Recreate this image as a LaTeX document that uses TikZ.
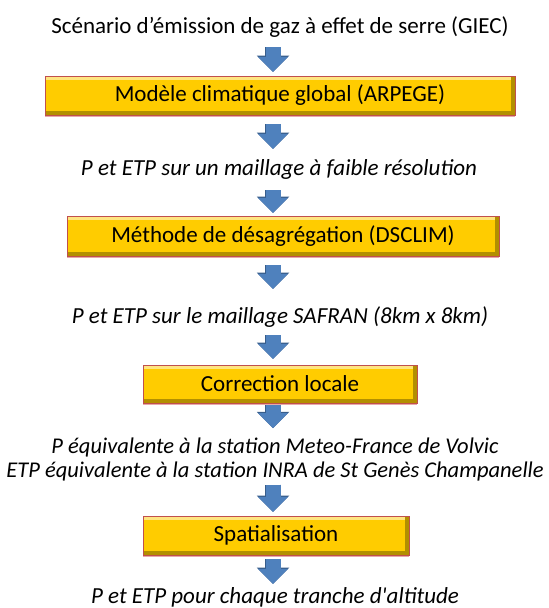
\documentclass[tikz,border=0pt]{standalone}
\usepackage{fontspec}
\setmainfont{Carlito}
\usepackage{xcolor}
\definecolor{FlowBlue}{HTML}{4F81BD}
\definecolor{FlowEdge}{HTML}{385D8A}
\definecolor{StepGold}{HTML}{FFCC00}
\definecolor{StepLight}{HTML}{FFE580}
\definecolor{StepDark}{HTML}{B38F00}
\definecolor{StepEdge}{HTML}{C0504D}
\definecolor{StepShade}{HTML}{E8A8A8}
\usetikzlibrary{arrows.meta}

\begin{document}
\begin{tikzpicture}[
    x=1pt, y=-1pt,
    font=\fontsize{23}{24}\selectfont,
    % Styles
    head_text/.style={inner sep=0pt, anchor=base, text height=17pt, text depth=6pt},
    data_text/.style={head_text, font=\fontsize{23}{24}\selectfont\itshape},
    step_box/.style={rectangle, draw=StepEdge, thin, fill=StepGold, inner sep=0pt,
        preaction={fill=StepShade, transform canvas={yshift=-2pt}},
        path picture={
            \fill[StepLight] (path picture bounding box.north west) rectangle ([yshift=-4pt]path picture bounding box.north east);
            \fill[StepDark] ([yshift=4pt]path picture bounding box.south west) rectangle (path picture bounding box.south east);
            \fill[StepDark] ([xshift=-4pt]path picture bounding box.north east) rectangle (path picture bounding box.south east);
        }},
    flow/.style={draw=FlowBlue, line width=15pt, -{Triangle[width=30pt, length=15pt, line width=0pt]},
        preaction={draw=FlowEdge, line width=16.5pt, -{Triangle[width=32.5pt, length=16.25pt, line width=0pt]}}}
]
    \useasboundingbox (0,0) rectangle (549,608);
    \coordinate (axis) at (273,0);

    % 1. SCENARIO AND GLOBAL MODEL
    \node[head_text] (scenario) at (280,33) {Scénario d’émission de gaz à effet de serre (GIEC)};
    \node[step_box, minimum width=470pt, minimum height=39pt] (arpege) at (280,95.5) {Modèle climatique global (ARPEGE)};
    \node[data_text] (coarse) at (279,175) {P et ETP sur un maillage à faible résolution};

    % 2. DOWNSCALING
    \node[step_box, minimum width=432pt, minimum height=40pt] (dsclim) at (283,236) {Méthode de désagrégation (DSCLIM)};
    \node[data_text] (safran) at (280,323) {P et ETP sur le maillage SAFRAN (8km x 8km)};

    % 3. LOCAL CORRECTION
    \node[step_box, minimum width=274pt, minimum height=38pt] (correction) at (280,384) {Correction locale};
    \node[inner sep=0pt, anchor=north, align=center, font=\fontsize{22.5}{24}\selectfont\itshape] (stations) at (275,438)
        {P équivalente à la station Meteo-France de Volvic\\ETP équivalente à la station INRA de St Genès Champanelle};

    % 4. SPATIALISATION
    \node[step_box, minimum width=266pt, minimum height=39pt] (spatial) at (276,535.5) {Spatialisation};
    \node[data_text] (altitude) at (275,603) {P et ETP pour chaque tranche d\textquotesingle altitude};

    % Flow arrows
    \draw[flow, shorten <=8pt, shorten >=4pt] (scenario.south -| axis) -- (arpege.north -| axis);
    \draw[flow, shorten <=9pt, shorten >=9pt] (arpege.south -| axis) -- (coarse.north -| axis);
    \draw[flow, shorten <=9pt, shorten >=3pt] (coarse.south -| axis) -- (dsclim.north -| axis);
    \draw[flow, shorten <=9pt, shorten >=17pt] (dsclim.south -| axis) -- (safran.north -| axis);
    \draw[flow, shorten <=6pt, shorten >=6pt] (safran.south -| axis) -- (correction.north -| axis);
    \draw[flow, shorten <=2pt, shorten >=10pt] (correction.south -| axis) -- (stations.north -| axis);
    \draw[flow, shorten <=3pt, shorten >=4pt] (stations.south -| axis) -- (spatial.north -| axis);
    \draw[flow, shorten <=4pt, shorten >=2pt] (spatial.south -| axis) -- (altitude.north -| axis);

\end{tikzpicture}
\end{document}
